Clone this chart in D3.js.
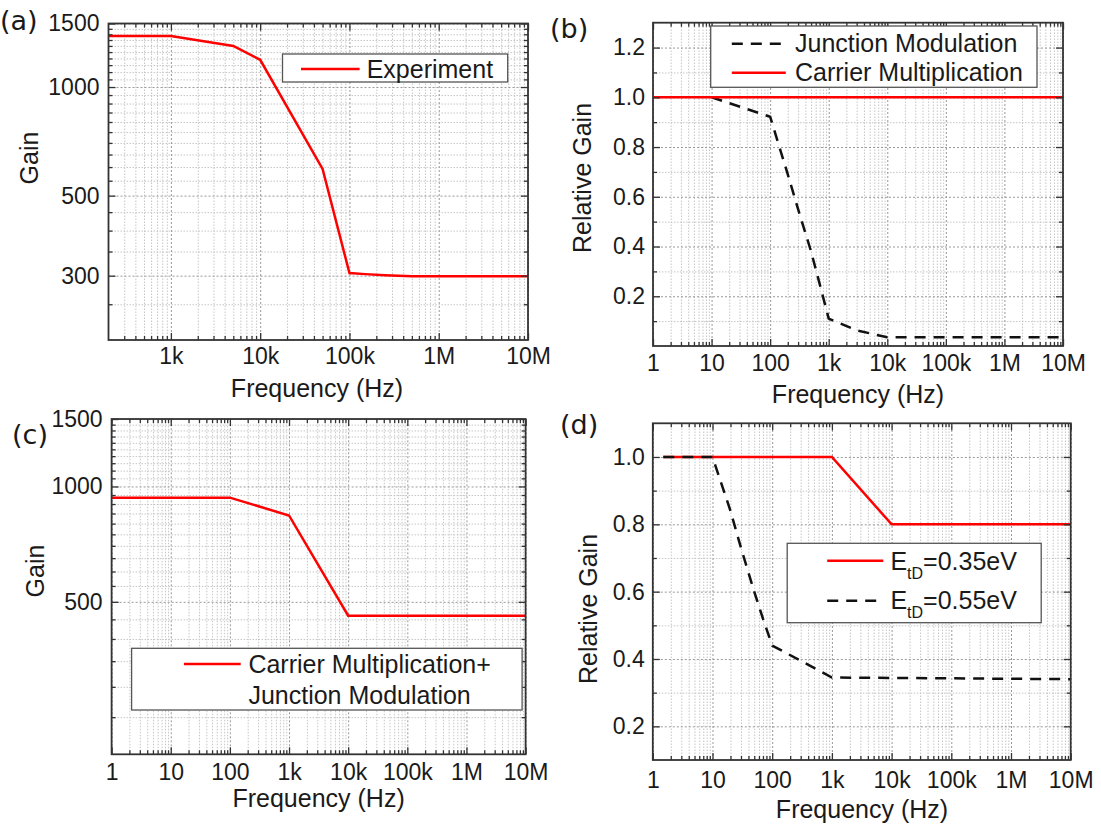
<!DOCTYPE html>
<html>
<head>
<meta charset="utf-8">
<script src="https://cdn.jsdelivr.net/npm/d3@7"></script>
<style>
  body { margin: 0; background: #fff; }
  svg text { font-family: "Liberation Sans", Arial, sans-serif; fill: #1a1a1a; }
  .grid .domain, .grid text { display: none; }
  .grid.major line { stroke: #999; stroke-dasharray: 2,2; }
  .grid.minor line { stroke: #c6c6c6; stroke-dasharray: 1.5,1.5; }
</style>
</head>
<body>
<svg id="fig" width="1101" height="826"></svg>
<script>
// ---- data ----
var xTickValues = [1, 10, 100, 1e3, 1e4, 1e5, 1e6, 1e7];
var xTickLabels = ['1', '10', '100', '1k', '10k', '100k', '1M', '10M'];

var gainTicksA = [300, 500, 1000, 1500];
var gainTicksC = [500, 1000, 1500];
var relTicksB = [0.2, 0.4, 0.6, 0.8, 1.0, 1.2];
var relTicksD = [0.2, 0.4, 0.6, 0.8, 1.0];

// (a) experiment
var freqA = [200, 1000, 5000, 10000, 50000, 100000, 150000, 250000, 500000, 1e7];
var gainA = [1385, 1385, 1300, 1190, 593, 305, 303, 301, 299, 299];

// (b) junction modulation / carrier multiplication
var freqJM = [10, 100, 200, 300, 500, 700, 1000, 3000, 10000, 1e7];
var relJM = [1.0, 0.922, 0.69, 0.55, 0.38, 0.25, 0.11, 0.063, 0.035, 0.035];
var freqCM = [1, 1e7];
var relCM = [1.0, 1.0];

// (c) carrier multiplication + junction modulation
var freqC = [1, 100, 1000, 10000, 1e7];
var gainC = [935, 935, 840, 460, 460];

// (d) two trap energies
var freq035 = [1.5, 1000, 10000, 1e7];
var rel035 = [1.0, 1.0, 0.8, 0.8];
var freq055 = [1.5, 10, 20, 30, 50, 70, 100, 1000, 1e7];
var rel055 = [1.0, 1.0, 0.84, 0.73, 0.6, 0.52, 0.44, 0.345, 0.34];

var svg = d3.select('#fig');
var RED = '#ff0000', BLACK = '#111';

function logMinor(dom) {
  var out = [];
  for (var d = 1; d < 1e7; d *= 10)
    for (var k = 2; k <= 9; k++) {
      var v = d * k;
      if (v > dom[0] * 1.001 && v < dom[1]) out.push(v);
    }
  return out;
}

function grid(g, axis, tr, cls) {
  g.append('g').attr('class', 'grid ' + cls).attr('transform', tr).call(axis);
}

function fmtX(d) { return xTickLabels[xTickValues.indexOf(d)]; }

function drawPanel(p) {
  var x = d3.scaleLog().domain(p.xDomain).range([p.left, p.right]);
  var y = (p.yLog ? d3.scaleLog() : d3.scaleLinear()).domain(p.yDomain).range([p.bottom, p.top]);
  var w = p.right - p.left, h = p.bottom - p.top;
  var xMajor = xTickValues.filter(function (v) { return v >= p.xDomain[0] && v <= p.xDomain[1]; });
  var xMinor = logMinor(p.xDomain);
  var g = svg.append('g');

  // dotted grid
  grid(g, d3.axisBottom(x).tickValues(xMinor).tickSize(-h), 'translate(0,' + p.bottom + ')', 'minor');
  grid(g, d3.axisLeft(y).tickValues(p.yMinor).tickSize(-w), 'translate(' + p.left + ',0)', 'minor');
  grid(g, d3.axisBottom(x).tickValues(xMajor).tickSize(-h), 'translate(0,' + p.bottom + ')', 'major');
  grid(g, d3.axisLeft(y).tickValues(p.yMajor).tickSize(-w), 'translate(' + p.left + ',0)', 'major');

  // series
  var line = d3.line().x(function (d) { return x(d[0]); }).y(function (d) { return y(d[1]); });
  p.series.forEach(function (s) {
    g.append('path').datum(d3.zip(s.x, s.y))
      .attr('d', line).attr('fill', 'none')
      .attr('stroke', s.color).attr('stroke-width', 2.5)
      .attr('stroke-dasharray', s.dash || null);
  });

  // frame
  g.append('rect').attr('x', p.left).attr('y', p.top).attr('width', w).attr('height', h)
    .attr('fill', 'none').attr('stroke', '#333').attr('stroke-width', 1.8);

  // inward ticks on all four sides
  function ticks(axis, tr, labels) {
    var a = g.append('g').attr('transform', tr).call(axis)
      .attr('font-size', 23).attr('font-family', null).attr('color', '#333');
    a.select('.domain').remove();
    a.selectAll('line').attr('stroke-width', 1.3);
    if (!labels) a.selectAll('text').remove();
    return a;
  }
  ticks(d3.axisBottom(x).tickValues(xMinor).tickSize(-4).tickFormat(''), 'translate(0,' + p.bottom + ')');
  ticks(d3.axisTop(x).tickValues(xMinor).tickSize(-4).tickFormat(''), 'translate(0,' + p.top + ')');
  ticks(d3.axisLeft(y).tickValues(p.yMinor).tickSize(-4).tickFormat(''), 'translate(' + p.left + ',0)');
  ticks(d3.axisRight(y).tickValues(p.yMinor).tickSize(-4).tickFormat(''), 'translate(' + p.right + ',0)');
  ticks(d3.axisBottom(x).tickValues(xMajor).tickSize(-7).tickPadding(p.xPad).tickFormat(fmtX),
    'translate(0,' + p.bottom + ')', true);
  ticks(d3.axisTop(x).tickValues(xMajor).tickSize(-7).tickFormat(''), 'translate(0,' + p.top + ')');
  ticks(d3.axisLeft(y).tickValues(p.yMajor).tickSize(-7).tickPadding(p.yPad).tickFormat(p.yFmt),
    'translate(' + p.left + ',0)', true);
  ticks(d3.axisRight(y).tickValues(p.yMajor).tickSize(-7).tickFormat(''), 'translate(' + p.right + ',0)');

  // titles
  g.append('text').attr('x', p.xTitle[0]).attr('y', p.xTitle[1])
    .attr('text-anchor', 'middle').attr('font-size', 25).text('Frequency (Hz)');
  g.append('text').attr('transform', 'translate(' + p.yTitle[0] + ',' + p.yTitle[1] + ') rotate(-90)')
    .attr('text-anchor', 'middle').attr('font-size', 25).text(p.yLabel);
  g.append('text').attr('x', p.tag[0]).attr('y', p.tag[1])
    .style('font-family', '"DejaVu Sans", sans-serif').attr('font-size', 27).text(p.tagText);

  // legend
  var L = p.legend;
  g.append('rect').attr('x', L.box[0]).attr('y', L.box[1])
    .attr('width', L.box[2] - L.box[0]).attr('height', L.box[3] - L.box[1])
    .attr('fill', '#fff').attr('stroke', '#555').attr('stroke-width', 1.3);
  L.rows.forEach(function (r) {
    if (r.color) {
      g.append('line').attr('x1', L.line[0]).attr('x2', L.line[1]).attr('y1', r.ly).attr('y2', r.ly)
        .attr('stroke', r.color).attr('stroke-width', 2.5).attr('stroke-dasharray', r.dash || null);
    }
    var t = g.append('text').attr('x', L.tx).attr('y', r.ty).attr('font-size', 25);
    if (r.sub) {
      t.append('tspan').text(r.text[0]);
      t.append('tspan').attr('font-size', 16).attr('dy', 9).text(r.sub);
      t.append('tspan').attr('dy', -9).text(r.text[1]);
    } else {
      t.text(r.text);
    }
  });
}

var fmt1 = d3.format('.1f');
var DASH = '11,8';

drawPanel({
  left: 108.5, right: 528, top: 23.5, bottom: 340,
  xDomain: [200, 1e7], yLog: true, yDomain: [199, 1500],
  yMajor: gainTicksA, yMinor: d3.range(250, 1500, 50).filter(function (v) { return gainTicksA.indexOf(v) < 0; }),
  yFmt: d3.format('d'), xPad: 8, yPad: 9,
  series: [{ x: freqA, y: gainA, color: RED }],
  xTitle: [317, 397], yTitle: [38, 158], yLabel: 'Gain', tag: [0, 30], tagText: '(a)',
  legend: { box: [282.5, 54, 507.7, 82], line: [301, 359.6], tx: 366.7,
    rows: [{ ly: 69, ty: 77.5, color: RED, text: 'Experiment' }] }
});

drawPanel({
  left: 653, right: 1063, top: 22.7, bottom: 346,
  xDomain: [1, 1e7], yLog: false, yDomain: [0, 1.3],
  yMajor: relTicksB, yMinor: [0.1, 0.3, 0.5, 0.7, 0.9, 1.1],
  yFmt: fmt1, xPad: 9, yPad: 8,
  series: [{ x: freqJM, y: relJM, color: BLACK, dash: DASH }, { x: freqCM, y: relCM, color: RED }],
  xTitle: [858, 403], yTitle: [591, 178], yLabel: 'Relative Gain', tag: [550, 38], tagText: '(b)',
  legend: { box: [710.7, 26, 1037, 87.3], line: [731.8, 785.8], tx: 795,
    rows: [{ ly: 43.7, ty: 51.7, color: BLACK, dash: DASH, text: 'Junction Modulation' },
           { ly: 72.7, ty: 81, color: RED, text: 'Carrier Multiplication' }] }
});

drawPanel({
  left: 111.6, right: 525.6, top: 419, bottom: 754.3,
  xDomain: [1, 1e7], yLog: true, yDomain: [200, 1500],
  yMajor: gainTicksC, yMinor: d3.range(250, 1500, 50).filter(function (v) { return gainTicksC.indexOf(v) < 0; }),
  yFmt: d3.format('d'), xPad: 9, yPad: 9,
  series: [{ x: freqC, y: gainC, color: RED }],
  xTitle: [318.6, 807], yTitle: [44, 571], yLabel: 'Gain', tag: [12, 444], tagText: '(c)',
  legend: { box: [131.6, 648.3, 522.1, 710], line: [183.9, 240.7], tx: 248.4,
    rows: [{ ly: 664, ty: 673.3, color: RED, text: 'Carrier Multiplication+' },
           { ty: 704, text: 'Junction Modulation' }] }
});

drawPanel({
  left: 652.8, right: 1070.7, top: 423.3, bottom: 760,
  xDomain: [1, 1e7], yLog: false, yDomain: [0.1, 1.1],
  yMajor: relTicksD, yMinor: [0.3, 0.5, 0.7, 0.9],
  yFmt: fmt1, xPad: 12, yPad: 8,
  series: [{ x: freq035, y: rel035, color: RED }, { x: freq055, y: rel055, color: BLACK, dash: DASH }],
  xTitle: [862, 818], yTitle: [597, 609], yLabel: 'Relative Gain', tag: [560, 434], tagText: '(d)',
  legend: { box: [787.2, 543.3, 1041.2, 622.7], line: [827.2, 883.3], tx: 890.4,
    rows: [{ ly: 560.7, ty: 570, color: RED, text: ['E', '=0.35eV'], sub: 'tD' },
           { ly: 600.7, ty: 609.3, color: BLACK, dash: DASH, text: ['E', '=0.55eV'], sub: 'tD' }] }
});
</script>
</body>
</html>
